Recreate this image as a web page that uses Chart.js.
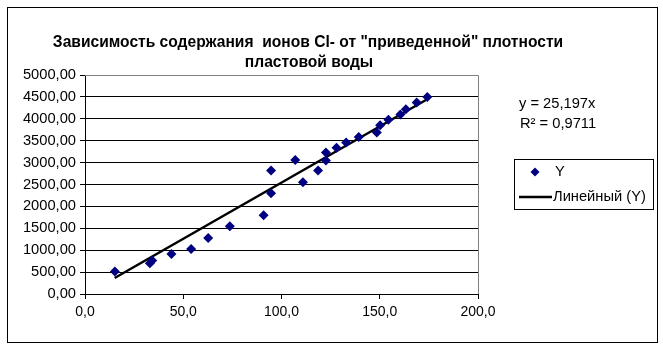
<!DOCTYPE html>
<html>
<head>
<meta charset="utf-8">
<script src="https://cdn.jsdelivr.net/npm/chart.js@4.4.0/dist/chart.umd.min.js"></script>
<style>
  body { margin: 0; background: #fff; }
  #wrap { width: 663px; height: 350px; }
</style>
</head>
<body>
<div id="wrap"><canvas id="chart" width="663" height="350"></canvas></div>
<script>
// Data
var titleLines = ['Зависимость содержания  ионов Cl- от "приведенной" плотности', 'пластовой воды'];
var xVals = [15.2, 33.0, 34.2, 44.0, 54.0, 62.7, 73.7, 90.9, 94.7, 94.7, 107.0, 110.9, 118.6, 122.6, 122.6, 128.0, 132.9, 139.3, 148.5, 150.2, 154.4, 160.5, 163.3, 168.8, 174.2];
var yVals = [516, 702, 763, 911, 1028, 1276, 1545, 1800, 2818, 2302, 3060, 2550, 2818, 3228, 3050, 3340, 3460, 3585, 3688, 3850, 3980, 4098, 4220, 4372, 4496];
var trendX = [15.1, 173.5];
var trendY = [365, 4430];
var xTicks = [0, 50, 100, 150, 200];
var yTicks = [0, 500, 1000, 1500, 2000, 2500, 3000, 3500, 4000, 4500, 5000];
var equationLines = ['y = 25,197x', 'R² = 0,9711'];

var FONT = '"Liberation Sans", Arial, sans-serif';

var points = xVals.map(function (x, i) { return { x: x, y: yVals[i] }; });
var trend = trendX.map(function (x, i) { return { x: x, y: trendY[i] }; });

// Frame, title, equation and legend box
var extras = {
  id: 'extras',
  afterDraw: function (chart) {
    var ctx = chart.ctx;
    var a = chart.chartArea;
    ctx.save();
    // outer frame
    ctx.strokeStyle = '#000';
    ctx.lineWidth = 1;
    ctx.strokeRect(7.5, 7.5, 650, 335);
    // plot area right/top edge (gray)
    ctx.strokeStyle = '#808080';
    ctx.beginPath();
    ctx.moveTo(a.left, a.top + 0.5);
    ctx.lineTo(a.right + 0.5, a.top + 0.5);
    ctx.lineTo(a.right + 0.5, a.bottom);
    ctx.stroke();

    // title
    ctx.fillStyle = '#000';
    ctx.font = 'bold 15.6px ' + FONT;
    ctx.textAlign = 'center';
    ctx.textBaseline = 'middle';
    ctx.fillText(titleLines[0], 308, 43);
    ctx.fillText(titleLines[1], 309, 63);

    // trendline equation
    ctx.font = '14.7px ' + FONT;
    ctx.textAlign = 'left';
    ctx.fillText(equationLines[0], 519, 104);
    ctx.fillText(equationLines[1], 520, 124);

    // legend
    ctx.strokeStyle = '#000';
    ctx.strokeRect(514.5, 159.5, 139, 50);
    var ds = chart.data.datasets;
    // scatter entry
    ctx.fillStyle = ds[0].backgroundColor;
    ctx.beginPath();
    ctx.moveTo(535, 167.5);
    ctx.lineTo(539.5, 172);
    ctx.lineTo(535, 176.5);
    ctx.lineTo(530.5, 172);
    ctx.closePath();
    ctx.fill();
    ctx.fillStyle = '#000';
    ctx.fillText(ds[0].label, 555, 172);
    // line entry
    ctx.strokeStyle = ds[1].borderColor;
    ctx.lineWidth = 2.5;
    ctx.beginPath();
    ctx.moveTo(519, 197);
    ctx.lineTo(552, 197);
    ctx.stroke();
    ctx.fillText(ds[1].label, 553, 197);
    ctx.restore();
  }
};

var ctx = document.getElementById('chart').getContext('2d');
var chart = new Chart(ctx, {
  type: 'scatter',
  data: {
    datasets: [{
      label: 'Y',
      data: points,
      pointStyle: 'rectRot',
      pointRadius: 5,
      backgroundColor: '#000080',
      borderColor: '#000080',
      borderWidth: 0,
      order: 1
    }, {
      label: 'Линейный (Y)',
      type: 'line',
      data: trend,
      borderColor: '#000',
      borderWidth: 2.5,
      pointRadius: 0,
      fill: false,
      order: 2
    }]
  },
  options: {
    responsive: false,
    animation: false,
    layout: { padding: { left: 0, top: 75, right: 185, bottom: 0 } },
    plugins: {
      legend: { display: false },
      title: { display: false },
      tooltip: { enabled: false }
    },
    scales: {
      x: {
        type: 'linear',
        min: 0,
        max: 200,
        afterBuildTicks: function (scale) {
          scale.ticks = xTicks.map(function (v) { return { value: v }; });
        },
        afterFit: function (scale) { scale.height = 56; },
        grid: { display: true, drawOnChartArea: false, drawTicks: true, tickLength: 5, color: '#000' },
        border: { color: '#000' },
        ticks: {
          padding: 5,
          color: '#000',
          font: { family: FONT, size: 14 },
          maxRotation: 0,
          callback: function (v) { return v.toFixed(1).replace('.', ','); }
        }
      },
      y: {
        type: 'linear',
        min: 0,
        max: 5000,
        afterBuildTicks: function (scale) {
          scale.ticks = yTicks.map(function (v) { return { value: v }; });
        },
        afterFit: function (scale) { scale.width = 85; },
        grid: {
          color: function (c) { return c.tick && c.tick.value === 5000 ? '#808080' : '#000'; },
          tickLength: 5,
          tickColor: '#000'
        },
        border: { color: '#000' },
        ticks: {
          padding: 4,
          color: '#000',
          font: { family: FONT, size: 14.7 },
          callback: function (v) { return v.toFixed(2).replace('.', ','); }
        }
      }
    }
  },
  plugins: [extras]
});
</script>
</body>
</html>
